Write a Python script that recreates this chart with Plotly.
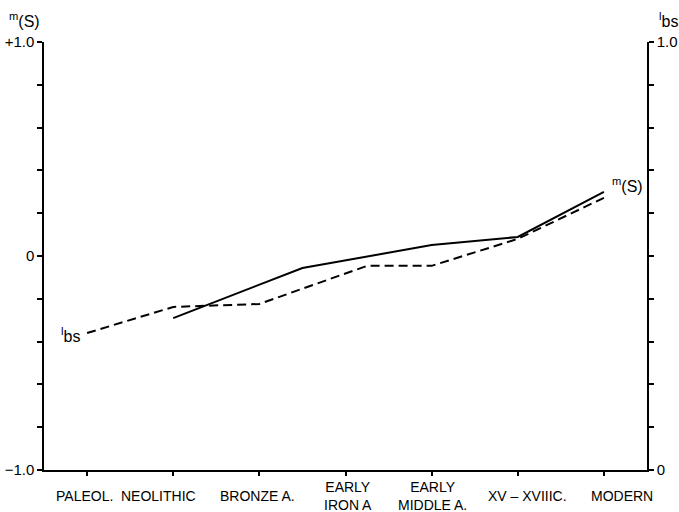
import plotly.graph_objects as go

# Categories (x positions are category indices)
categories = ["PALEOL.", "NEOLITHIC", "BRONZE A.", "EARLY<br>IRON A", "EARLY<br>MIDDLE A.", "XV – XVIIIC.", "MODERN"]
category_index = [0, 1, 2, 3, 4, 5, 6]

# m(S) series (left axis, -1..+1)
m_x = [1, 2.5, 4, 5, 6]
m_values = [-0.29, -0.056, 0.051, 0.089, 0.30]

# l_bs series (right axis, 0..1)
l_x = [0, 1, 2, 3.25, 4, 5, 6]
l_values = [0.32, 0.381, 0.388, 0.477, 0.477, 0.54, 0.636]

# axis ticks
left_tickvals = [-1.0, 0.0, 1.0]
left_ticktext = ["−1.0", "0", "+1.0"]
left_minor_ticks = [-0.8, -0.6, -0.4, -0.2, 0.2, 0.4, 0.6, 0.8]
right_tickvals = [0.0, 1.0]
right_ticktext = ["0", "1.0"]
right_minor_ticks = [0.1, 0.2, 0.3, 0.4, 0.5, 0.6, 0.7, 0.8, 0.9]
label_shifts = [-3, -15, -2, 2, 1, 10, 18]

FONT = "Liberation Sans"

fig = go.Figure()
fig.add_trace(go.Scatter(x=m_x, y=m_values, mode="lines",
                         line=dict(color="black", width=2), yaxis="y", showlegend=False))
fig.add_trace(go.Scatter(x=l_x, y=l_values, mode="lines",
                         line=dict(color="black", width=2, dash="9px,5px"), yaxis="y2", showlegend=False))

annotations = []
for cat, xi, sh in zip(categories, category_index, label_shifts):
    annotations.append(dict(x=xi, y=-0.061, xref="x", yref="paper", text=cat, showarrow=False,
                            xanchor="center", yanchor="middle", xshift=sh,
                            font=dict(family=FONT, size=14, color="black")))
# axis titles
annotations.append(dict(x=-0.033, y=1.052, xref="paper", yref="paper", text="<sup>m</sup>(S)",
                        showarrow=False, xanchor="center", yanchor="middle",
                        font=dict(family=FONT, size=16, color="black")))
annotations.append(dict(x=1.035, y=1.052, xref="paper", yref="paper", text="<sup>l</sup>bs",
                        showarrow=False, xanchor="center", yanchor="middle",
                        font=dict(family=FONT, size=16, color="black")))
# line labels
annotations.append(dict(x=m_x[-1], y=m_values[-1], xref="x", yref="y", text="<sup>m</sup>(S)",
                        showarrow=False, xanchor="left", yanchor="middle", xshift=6, yshift=7,
                        font=dict(family=FONT, size=16, color="black")))
annotations.append(dict(x=l_x[0], y=l_values[0], xref="x", yref="y2", text="<sup>l</sup>bs",
                        showarrow=False, xanchor="right", yanchor="middle", xshift=-5, yshift=-2,
                        font=dict(family=FONT, size=16, color="black")))

tick_style = dict(ticks="outside", ticklen=5, tickwidth=1.5, tickcolor="black")

fig.update_layout(
    width=679, height=512,
    margin=dict(l=44, r=32, t=42, b=42),
    paper_bgcolor="white", plot_bgcolor="white",
    font=dict(family=FONT, size=14, color="black"),
    xaxis=dict(range=[-0.5, 6.5], tickvals=category_index, showticklabels=False, automargin=False,
               ticks="outside", ticklen=4, tickwidth=1.5, tickcolor="black",
               showline=True, linecolor="black", linewidth=1.5, showgrid=False, zeroline=False),
    yaxis=dict(range=[-1, 1], tickvals=left_tickvals, ticktext=left_ticktext, automargin=False,
               minor=dict(tickvals=left_minor_ticks, showgrid=False, **tick_style),
               showline=True, linecolor="black", linewidth=1.5, showgrid=False, zeroline=False,
               tickfont=dict(family=FONT, size=15, color="black"), **tick_style),
    yaxis2=dict(range=[0, 1], overlaying="y", side="right", tickvals=right_tickvals, automargin=False,
                ticktext=right_ticktext,
                minor=dict(tickvals=right_minor_ticks, showgrid=False, **tick_style),
                showline=True, linecolor="black", linewidth=1.5, showgrid=False, zeroline=False,
                tickfont=dict(family=FONT, size=15, color="black"), **tick_style),
    annotations=annotations,
)

fig.write_html("out.html", config={"displayModeBar": False},
               post_script="document.body.style.margin='0px';document.body.style.overflow='hidden';")
